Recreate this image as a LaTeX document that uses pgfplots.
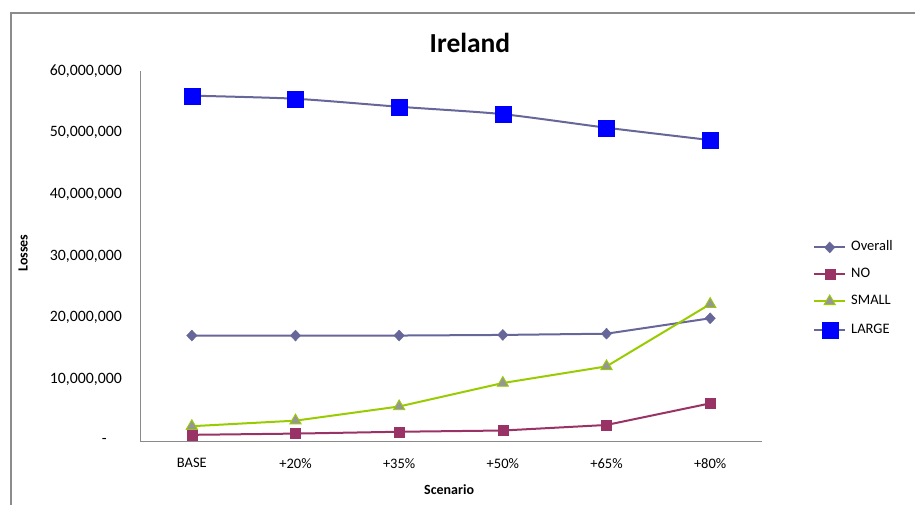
\documentclass[border=0pt]{standalone}
\usepackage{fontspec}
\setmainfont{Carlito}
\usepackage{pgfplots}
\pgfplotsset{compat=1.18}

\definecolor{overallc}{HTML}{666699}
\definecolor{noc}{HTML}{993366}
\definecolor{smallc}{HTML}{99CC00}
\definecolor{smallm}{HTML}{969696}
\definecolor{largel}{HTML}{666699}
\definecolor{largem}{HTML}{0000FF}
\definecolor{framec}{HTML}{8C8C8C}
\definecolor{axisc}{HTML}{8A8A8A}

\begin{document}
\begin{tikzpicture}
\useasboundingbox (0,0) rectangle (915bp,505bp);
% chart area frame
\draw[framec, line width=1.3bp] (11bp,0) -- (11bp,492bp) -- (915bp,492bp);
\begin{axis}[
  at={(140bp,64bp)}, anchor=south west,
  scale only axis, width=622bp, height=370bp,
  xmin=-0.5, xmax=5.5, ymin=0, ymax=60000000,
  axis x line*=bottom, axis y line*=left,
  axis line style={draw=axisc, line width=0.9bp},
  major tick length=0pt,
  xtick={0,1,2,3,4,5},
  xticklabels={BASE,+20\%,+35\%,+50\%,+65\%,+80\%},
  ytick={0,10000000,20000000,30000000,40000000,50000000,60000000},
  yticklabels={{-\rule{15bp}{0pt}},{10,000,000},{20,000,000},{30,000,000},{40,000,000},{50,000,000},{60,000,000}},
  scaled y ticks=false,
  xticklabel style={font=\fontsize{14.5bp}{17bp}\selectfont, text=black, inner sep=0pt, yshift=-17bp},
  yticklabel style={font=\fontsize{15.8bp}{18bp}\selectfont, text=black, inner sep=0pt, xshift=-18bp},
  title={Ireland},
  title style={at={(axis description cs:0.5305,1.059)}, anchor=center,
    font=\bfseries\fontsize{27.5bp}{30bp}\selectfont},
  xlabel={Scenario},
  xlabel style={at={(axis description cs:0.497,-0.132)}, anchor=center,
    font=\bfseries\fontsize{14bp}{16bp}\selectfont},
  ylabel={Losses},
  ylabel style={at={(axis description cs:-0.188,0.508)}, anchor=center,
    font=\bfseries\fontsize{14bp}{16bp}\selectfont},
  legend style={at={(axis description cs:1.082,0.4096)}, anchor=west,
    draw=none, fill=none, inner sep=0pt, row sep=14bp, column sep=5bp,
    font=\fontsize{14.5bp}{16bp}\selectfont,
    nodes={inner sep=0pt, text height=10bp, text depth=3bp}},
  legend cell align=left,
  legend image code/.code={
    \draw[mark repeat=2,mark phase=2,#1]
      plot coordinates {(0bp,0bp) (15.5bp,0bp) (31bp,0bp)};},
]
\addplot[overallc, line width=2bp, mark=diamond*,
  mark size=5.5bp, mark options={fill=overallc, draw=overallc, line width=0.4bp, xscale=1.25}]
  coordinates {(0,17100000) (1,17100000) (2,17100000) (3,17200000) (4,17400000) (5,19900000)};
\addlegendentry{Overall}
\addplot[noc, line width=2bp, mark=square*,
  mark size=5bp, mark options={fill=noc, draw=noc, line width=0.4bp}]
  coordinates {(0,1000000) (1,1200000) (2,1500000) (3,1700000) (4,2600000) (5,6100000)};
\addlegendentry{NO}
\addplot[smallc, line width=2bp, mark=triangle*,
  mark size=6.5bp, mark options={fill=smallm, draw=smallc, line width=0.9bp}]
  coordinates {(0,2400000) (1,3300000) (2,5600000) (3,9400000) (4,12100000) (5,22200000)};
\addlegendentry{SMALL}
\addplot[largel, line width=2bp, smooth, tension=0.4, mark=square*,
  mark size=8bp, mark options={fill=largem, draw=largem, line width=0.1bp}]
  coordinates {(0,56000000) (1,55500000) (2,54200000) (3,53000000) (4,50800000) (5,48800000)};
\addlegendentry{LARGE}
\end{axis}
\end{tikzpicture}
\end{document}
